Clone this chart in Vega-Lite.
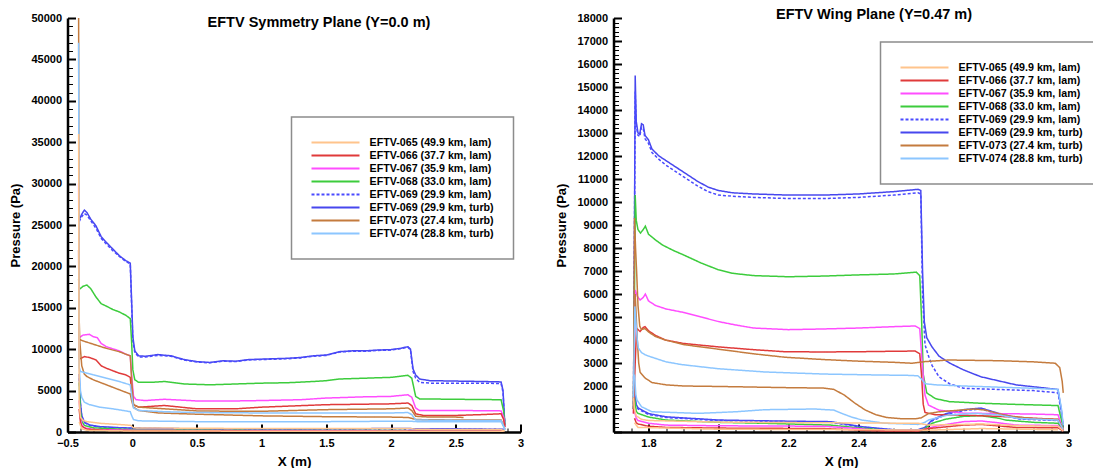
{
  "$schema": "https://vega.github.io/schema/vega-lite/v6.json",
  "background": "white",
  "padding": {"left": 9.5, "top": 6, "right": 0, "bottom": 0},
  "autosize": {"type": "pad"},
  "bounds": "flush",
  "spacing": 93,
  "config": {
    "view": {"stroke": null},
    "font": "Liberation Sans",
    "axis": {
      "grid": false,
      "domainColor": "black",
      "domainWidth": 2.5,
      "tickColor": "black",
      "labelFont": "Liberation Sans",
      "labelFontWeight": "bold",
      "labelFontSize": 11,
      "labelColor": "black",
      "labelOverlap": false,
      "labelFlush": false,
      "titleFont": "Liberation Sans",
      "titleFontWeight": "bold",
      "titleColor": "black"
    },
    "legend": {
      "strokeColor": "#8c8c8c",
      "strokeWidth": 1.5,
      "fillColor": "white",
      "padding": 19,
      "symbolType": "stroke",
      "symbolSize": 2304,
      "symbolStrokeWidth": 2,
      "clipHeight": 13,
      "rowPadding": 0,
      "labelFont": "Liberation Sans",
      "labelFontWeight": "bold",
      "labelFontSize": 10.7,
      "labelColor": "black",
      "labelOffset": 9,
      "labelLimit": 300
    }
  },
  "datasets": {
    "symmetry": [
      {"r":"069T","c":"u","x":-0.41,"p":25600},{"r":"069T","c":"u","x":-0.39,"p":26300},{"r":"069T","c":"u","x":-0.37,"p":26800},{"r":"069T","c":"u","x":-0.35,"p":26500},{"r":"069T","c":"u","x":-0.32,"p":25700},{"r":"069T","c":"u","x":-0.28,"p":24900},{"r":"069T","c":"u","x":-0.24,"p":23600},{"r":"069T","c":"u","x":-0.2,"p":22900},{"r":"069T","c":"u","x":-0.15,"p":22100},{"r":"069T","c":"u","x":-0.1,"p":21300},{"r":"069T","c":"u","x":-0.05,"p":20700},{"r":"069T","c":"u","x":-0.015,"p":20400},{"r":"069T","c":"u","x":-0.005,"p":16000},{"r":"069T","c":"u","x":0.005,"p":11500},{"r":"069T","c":"u","x":0.02,"p":9800},{"r":"069T","c":"u","x":0.05,"p":9200},{"r":"069T","c":"u","x":0.1,"p":9150},{"r":"069T","c":"u","x":0.2,"p":9350},{"r":"069T","c":"u","x":0.3,"p":9200},{"r":"069T","c":"u","x":0.4,"p":8750},{"r":"069T","c":"u","x":0.5,"p":8500},{"r":"069T","c":"u","x":0.6,"p":8400},{"r":"069T","c":"u","x":0.7,"p":8600},{"r":"069T","c":"u","x":0.8,"p":8550},{"r":"069T","c":"u","x":0.9,"p":8750},{"r":"069T","c":"u","x":1.0,"p":8800},{"r":"069T","c":"u","x":1.1,"p":8850},{"r":"069T","c":"u","x":1.2,"p":8900},{"r":"069T","c":"u","x":1.3,"p":9000},{"r":"069T","c":"u","x":1.4,"p":9200},{"r":"069T","c":"u","x":1.5,"p":9300},{"r":"069T","c":"u","x":1.6,"p":9700},{"r":"069T","c":"u","x":1.7,"p":9800},{"r":"069T","c":"u","x":1.8,"p":9800},{"r":"069T","c":"u","x":1.9,"p":9900},{"r":"069T","c":"u","x":2.0,"p":9950},{"r":"069T","c":"u","x":2.07,"p":10100},{"r":"069T","c":"u","x":2.13,"p":10300},{"r":"069T","c":"u","x":2.15,"p":10000},{"r":"069T","c":"u","x":2.17,"p":7600},{"r":"069T","c":"u","x":2.19,"p":6900},{"r":"069T","c":"u","x":2.22,"p":6400},{"r":"069T","c":"u","x":2.3,"p":6200},{"r":"069T","c":"u","x":2.5,"p":6150},{"r":"069T","c":"u","x":2.7,"p":6100},{"r":"069T","c":"u","x":2.85,"p":6050},{"r":"069T","c":"u","x":2.865,"p":5000},{"r":"069T","c":"u","x":2.875,"p":2000},{"r":"069T","c":"u","x":2.88,"p":800},
      {"r":"069L","c":"u","x":-0.41,"p":25400},{"r":"069L","c":"u","x":-0.39,"p":26000},{"r":"069L","c":"u","x":-0.37,"p":26400},{"r":"069L","c":"u","x":-0.35,"p":26200},{"r":"069L","c":"u","x":-0.32,"p":25500},{"r":"069L","c":"u","x":-0.28,"p":24600},{"r":"069L","c":"u","x":-0.24,"p":23400},{"r":"069L","c":"u","x":-0.2,"p":22700},{"r":"069L","c":"u","x":-0.15,"p":21900},{"r":"069L","c":"u","x":-0.1,"p":21200},{"r":"069L","c":"u","x":-0.05,"p":20600},{"r":"069L","c":"u","x":-0.015,"p":20300},{"r":"069L","c":"u","x":-0.005,"p":15500},{"r":"069L","c":"u","x":0.005,"p":11000},{"r":"069L","c":"u","x":0.02,"p":9600},{"r":"069L","c":"u","x":0.05,"p":9050},{"r":"069L","c":"u","x":0.1,"p":9050},{"r":"069L","c":"u","x":0.2,"p":9250},{"r":"069L","c":"u","x":0.3,"p":9150},{"r":"069L","c":"u","x":0.4,"p":8700},{"r":"069L","c":"u","x":0.5,"p":8450},{"r":"069L","c":"u","x":0.6,"p":8350},{"r":"069L","c":"u","x":0.7,"p":8550},{"r":"069L","c":"u","x":0.8,"p":8500},{"r":"069L","c":"u","x":0.9,"p":8700},{"r":"069L","c":"u","x":1.0,"p":8750},{"r":"069L","c":"u","x":1.1,"p":8800},{"r":"069L","c":"u","x":1.2,"p":8850},{"r":"069L","c":"u","x":1.3,"p":8950},{"r":"069L","c":"u","x":1.4,"p":9150},{"r":"069L","c":"u","x":1.5,"p":9250},{"r":"069L","c":"u","x":1.6,"p":9650},{"r":"069L","c":"u","x":1.7,"p":9750},{"r":"069L","c":"u","x":1.8,"p":9750},{"r":"069L","c":"u","x":1.9,"p":9850},{"r":"069L","c":"u","x":2.0,"p":9900},{"r":"069L","c":"u","x":2.07,"p":10050},{"r":"069L","c":"u","x":2.13,"p":10250},{"r":"069L","c":"u","x":2.15,"p":9900},{"r":"069L","c":"u","x":2.17,"p":7300},{"r":"069L","c":"u","x":2.19,"p":6500},{"r":"069L","c":"u","x":2.22,"p":6000},{"r":"069L","c":"u","x":2.3,"p":5900},{"r":"069L","c":"u","x":2.5,"p":5900},{"r":"069L","c":"u","x":2.7,"p":5900},{"r":"069L","c":"u","x":2.85,"p":5850},{"r":"069L","c":"u","x":2.865,"p":4800},{"r":"069L","c":"u","x":2.875,"p":1900},{"r":"069L","c":"u","x":2.88,"p":800},
      {"r":"069T","c":"l","x":-0.41,"p":7000},{"r":"069T","c":"l","x":-0.4,"p":3500},{"r":"069T","c":"l","x":-0.39,"p":2000},{"r":"069T","c":"l","x":-0.37,"p":1200},{"r":"069T","c":"l","x":-0.33,"p":850},{"r":"069T","c":"l","x":-0.25,"p":650},{"r":"069T","c":"l","x":-0.1,"p":520},{"r":"069T","c":"l","x":0.0,"p":480},{"r":"069T","c":"l","x":0.5,"p":380},{"r":"069T","c":"l","x":1.0,"p":350},{"r":"069T","c":"l","x":1.5,"p":380},{"r":"069T","c":"l","x":2.0,"p":420},{"r":"069T","c":"l","x":2.5,"p":380},{"r":"069T","c":"l","x":2.87,"p":320},
      {"r":"069L","c":"l","x":-0.41,"p":6500},{"r":"069L","c":"l","x":-0.4,"p":3300},{"r":"069L","c":"l","x":-0.39,"p":1900},{"r":"069L","c":"l","x":-0.37,"p":1150},{"r":"069L","c":"l","x":-0.33,"p":800},{"r":"069L","c":"l","x":-0.25,"p":600},{"r":"069L","c":"l","x":-0.1,"p":500},{"r":"069L","c":"l","x":0.0,"p":450},{"r":"069L","c":"l","x":0.5,"p":360},{"r":"069L","c":"l","x":1.0,"p":330},{"r":"069L","c":"l","x":1.5,"p":360},{"r":"069L","c":"l","x":2.0,"p":400},{"r":"069L","c":"l","x":2.5,"p":360},{"r":"069L","c":"l","x":2.87,"p":300},
      {"r":"068","c":"u","x":-0.414,"p":18500},{"r":"068","c":"u","x":-0.41,"p":17200},{"r":"068","c":"u","x":-0.38,"p":17600},{"r":"068","c":"u","x":-0.35,"p":17750},{"r":"068","c":"u","x":-0.32,"p":17300},{"r":"068","c":"u","x":-0.28,"p":16300},{"r":"068","c":"u","x":-0.24,"p":15500},{"r":"068","c":"u","x":-0.2,"p":15200},{"r":"068","c":"u","x":-0.15,"p":14800},{"r":"068","c":"u","x":-0.1,"p":14500},{"r":"068","c":"u","x":-0.05,"p":14100},{"r":"068","c":"u","x":-0.015,"p":13700},{"r":"068","c":"u","x":-0.005,"p":11000},{"r":"068","c":"u","x":0.005,"p":7500},{"r":"068","c":"u","x":0.02,"p":6300},{"r":"068","c":"u","x":0.05,"p":6000},{"r":"068","c":"u","x":0.15,"p":6000},{"r":"068","c":"u","x":0.25,"p":6100},{"r":"068","c":"u","x":0.4,"p":5800},{"r":"068","c":"u","x":0.6,"p":5700},{"r":"068","c":"u","x":0.8,"p":5800},{"r":"068","c":"u","x":1.0,"p":5900},{"r":"068","c":"u","x":1.2,"p":5950},{"r":"068","c":"u","x":1.4,"p":6100},{"r":"068","c":"u","x":1.5,"p":6200},{"r":"068","c":"u","x":1.6,"p":6400},{"r":"068","c":"u","x":1.8,"p":6500},{"r":"068","c":"u","x":2.0,"p":6600},{"r":"068","c":"u","x":2.13,"p":6850},{"r":"068","c":"u","x":2.16,"p":6500},{"r":"068","c":"u","x":2.19,"p":4300},{"r":"068","c":"u","x":2.22,"p":4000},{"r":"068","c":"u","x":2.5,"p":3950},{"r":"068","c":"u","x":2.85,"p":3900},{"r":"068","c":"u","x":2.87,"p":2500},{"r":"068","c":"u","x":2.88,"p":800},
      {"r":"068","c":"l","x":-0.41,"p":6000},{"r":"068","c":"l","x":-0.4,"p":2500},{"r":"068","c":"l","x":-0.39,"p":1300},{"r":"068","c":"l","x":-0.37,"p":800},{"r":"068","c":"l","x":-0.3,"p":500},{"r":"068","c":"l","x":-0.1,"p":350},{"r":"068","c":"l","x":0.0,"p":300},{"r":"068","c":"l","x":1.0,"p":180},{"r":"068","c":"l","x":2.0,"p":170},{"r":"068","c":"l","x":2.87,"p":140},
      {"r":"067","c":"u","x":-0.414,"p":30000},{"r":"067","c":"u","x":-0.41,"p":11400},{"r":"067","c":"u","x":-0.38,"p":11700},{"r":"067","c":"u","x":-0.33,"p":11800},{"r":"067","c":"u","x":-0.3,"p":11500},{"r":"067","c":"u","x":-0.27,"p":11400},{"r":"067","c":"u","x":-0.24,"p":10700},{"r":"067","c":"u","x":-0.2,"p":10300},{"r":"067","c":"u","x":-0.1,"p":9800},{"r":"067","c":"u","x":-0.05,"p":9400},{"r":"067","c":"u","x":-0.015,"p":9200},{"r":"067","c":"u","x":-0.005,"p":7000},{"r":"067","c":"u","x":0.01,"p":4300},{"r":"067","c":"u","x":0.03,"p":3900},{"r":"067","c":"u","x":0.1,"p":3800},{"r":"067","c":"u","x":0.25,"p":3950},{"r":"067","c":"u","x":0.5,"p":3750},{"r":"067","c":"u","x":0.8,"p":3750},{"r":"067","c":"u","x":1.0,"p":3800},{"r":"067","c":"u","x":1.3,"p":3900},{"r":"067","c":"u","x":1.5,"p":4100},{"r":"067","c":"u","x":1.8,"p":4250},{"r":"067","c":"u","x":2.0,"p":4300},{"r":"067","c":"u","x":2.13,"p":4500},{"r":"067","c":"u","x":2.16,"p":4200},{"r":"067","c":"u","x":2.19,"p":2900},{"r":"067","c":"u","x":2.22,"p":2600},{"r":"067","c":"u","x":2.5,"p":2600},{"r":"067","c":"u","x":2.85,"p":2550},{"r":"067","c":"u","x":2.87,"p":1800},{"r":"067","c":"u","x":2.88,"p":600},
      {"r":"067","c":"l","x":-0.41,"p":3800},{"r":"067","c":"l","x":-0.4,"p":1600},{"r":"067","c":"l","x":-0.39,"p":900},{"r":"067","c":"l","x":-0.37,"p":500},{"r":"067","c":"l","x":-0.3,"p":300},{"r":"067","c":"l","x":0.0,"p":220},{"r":"067","c":"l","x":1.0,"p":150},{"r":"067","c":"l","x":2.87,"p":120},
      {"r":"066","c":"u","x":-0.414,"p":22000},{"r":"066","c":"u","x":-0.41,"p":8800},{"r":"066","c":"u","x":-0.37,"p":9100},{"r":"066","c":"u","x":-0.33,"p":9000},{"r":"066","c":"u","x":-0.28,"p":8700},{"r":"066","c":"u","x":-0.24,"p":8000},{"r":"066","c":"u","x":-0.2,"p":7700},{"r":"066","c":"u","x":-0.15,"p":7400},{"r":"066","c":"u","x":-0.1,"p":7100},{"r":"066","c":"u","x":-0.05,"p":6900},{"r":"066","c":"u","x":-0.015,"p":6600},{"r":"066","c":"u","x":-0.005,"p":5000},{"r":"066","c":"u","x":0.01,"p":3300},{"r":"066","c":"u","x":0.05,"p":3000},{"r":"066","c":"u","x":0.25,"p":3200},{"r":"066","c":"u","x":0.5,"p":2800},{"r":"066","c":"u","x":0.8,"p":2800},{"r":"066","c":"u","x":1.0,"p":3000},{"r":"066","c":"u","x":1.5,"p":3300},{"r":"066","c":"u","x":2.0,"p":3400},{"r":"066","c":"u","x":2.13,"p":3500},{"r":"066","c":"u","x":2.16,"p":3200},{"r":"066","c":"u","x":2.19,"p":2200},{"r":"066","c":"u","x":2.25,"p":2000},{"r":"066","c":"u","x":2.5,"p":2000},{"r":"066","c":"u","x":2.7,"p":2100},{"r":"066","c":"u","x":2.85,"p":2200},{"r":"066","c":"u","x":2.87,"p":1500},{"r":"066","c":"u","x":2.88,"p":600},
      {"r":"066","c":"l","x":-0.41,"p":2800},{"r":"066","c":"l","x":-0.4,"p":1200},{"r":"066","c":"l","x":-0.39,"p":700},{"r":"066","c":"l","x":-0.35,"p":350},{"r":"066","c":"l","x":-0.2,"p":200},{"r":"066","c":"l","x":0.0,"p":160},{"r":"066","c":"l","x":1.0,"p":100},{"r":"066","c":"l","x":2.87,"p":80},
      {"r":"073","c":"a","x":-0.414,"p":50000},{"r":"073","c":"a","x":-0.41,"p":11200},{"r":"073","c":"a","x":-0.38,"p":11000},{"r":"073","c":"a","x":-0.3,"p":10600},{"r":"073","c":"a","x":-0.2,"p":10100},{"r":"073","c":"a","x":-0.1,"p":9700},{"r":"073","c":"a","x":-0.05,"p":9400},{"r":"073","c":"a","x":-0.015,"p":9200},{"r":"073","c":"a","x":-0.005,"p":6500},{"r":"073","c":"a","x":0.01,"p":3300},{"r":"073","c":"a","x":0.05,"p":3000},{"r":"073","c":"a","x":0.25,"p":2800},{"r":"073","c":"a","x":0.5,"p":2550},{"r":"073","c":"a","x":0.8,"p":2500},{"r":"073","c":"a","x":1.0,"p":2500},{"r":"073","c":"a","x":1.5,"p":2700},{"r":"073","c":"a","x":2.0,"p":2800},{"r":"073","c":"a","x":2.13,"p":2900},{"r":"073","c":"a","x":2.16,"p":2600},{"r":"073","c":"a","x":2.19,"p":1900},{"r":"073","c":"a","x":2.3,"p":1800},{"r":"073","c":"a","x":2.5,"p":1800},{"r":"073","c":"a","x":2.56,"p":1750},
      {"r":"073","c":"b","x":-0.413,"p":15400},{"r":"073","c":"b","x":-0.405,"p":11000},{"r":"073","c":"b","x":-0.39,"p":8000},{"r":"073","c":"b","x":-0.37,"p":7000},{"r":"073","c":"b","x":-0.35,"p":6700},{"r":"073","c":"b","x":-0.3,"p":6300},{"r":"073","c":"b","x":-0.2,"p":5700},{"r":"073","c":"b","x":-0.1,"p":5100},{"r":"073","c":"b","x":-0.05,"p":4800},{"r":"073","c":"b","x":-0.015,"p":4600},{"r":"073","c":"b","x":-0.005,"p":3800},{"r":"073","c":"b","x":0.01,"p":3000},{"r":"073","c":"b","x":0.05,"p":2600},{"r":"073","c":"b","x":0.2,"p":2300},{"r":"073","c":"b","x":0.5,"p":2150},{"r":"073","c":"b","x":1.0,"p":1950},{"r":"073","c":"b","x":1.5,"p":1850},{"r":"073","c":"b","x":2.0,"p":1800},{"r":"073","c":"b","x":2.13,"p":1750},{"r":"073","c":"b","x":2.16,"p":1650},{"r":"073","c":"b","x":2.2,"p":1500},{"r":"073","c":"b","x":2.5,"p":1450},{"r":"073","c":"b","x":2.85,"p":1450},{"r":"073","c":"b","x":2.87,"p":800},{"r":"073","c":"b","x":2.88,"p":300},
      {"r":"074","c":"a","x":-0.414,"p":47000},{"r":"074","c":"a","x":-0.41,"p":7800},{"r":"074","c":"a","x":-0.4,"p":7300},{"r":"074","c":"a","x":-0.35,"p":7100},{"r":"074","c":"a","x":-0.3,"p":6900},{"r":"074","c":"a","x":-0.2,"p":6500},{"r":"074","c":"a","x":-0.1,"p":6100},{"r":"074","c":"a","x":-0.05,"p":5850},{"r":"074","c":"a","x":-0.015,"p":5700},{"r":"074","c":"a","x":-0.005,"p":4500},{"r":"074","c":"a","x":0.01,"p":2900},{"r":"074","c":"a","x":0.05,"p":2600},{"r":"074","c":"a","x":0.25,"p":2450},{"r":"074","c":"a","x":0.5,"p":2350},{"r":"074","c":"a","x":1.0,"p":2300},{"r":"074","c":"a","x":1.5,"p":2300},{"r":"074","c":"a","x":2.0,"p":2300},{"r":"074","c":"a","x":2.13,"p":2350},{"r":"074","c":"a","x":2.16,"p":2100},{"r":"074","c":"a","x":2.19,"p":1450},{"r":"074","c":"a","x":2.5,"p":1400},{"r":"074","c":"a","x":2.85,"p":1400},{"r":"074","c":"a","x":2.87,"p":700},{"r":"074","c":"a","x":2.88,"p":200},
      {"r":"074","c":"b","x":-0.412,"p":9000},{"r":"074","c":"b","x":-0.4,"p":5000},{"r":"074","c":"b","x":-0.39,"p":4200},{"r":"074","c":"b","x":-0.37,"p":3600},{"r":"074","c":"b","x":-0.33,"p":3300},{"r":"074","c":"b","x":-0.25,"p":3000},{"r":"074","c":"b","x":-0.15,"p":2800},{"r":"074","c":"b","x":-0.05,"p":2550},{"r":"074","c":"b","x":-0.015,"p":2450},{"r":"074","c":"b","x":-0.005,"p":2000},{"r":"074","c":"b","x":0.01,"p":1500},{"r":"074","c":"b","x":0.05,"p":1350},{"r":"074","c":"b","x":0.25,"p":1300},{"r":"074","c":"b","x":0.5,"p":1250},{"r":"074","c":"b","x":1.0,"p":1250},{"r":"074","c":"b","x":1.5,"p":1250},{"r":"074","c":"b","x":2.0,"p":1300},{"r":"074","c":"b","x":2.15,"p":1300},{"r":"074","c":"b","x":2.2,"p":1250},{"r":"074","c":"b","x":2.85,"p":1250},{"r":"074","c":"b","x":2.88,"p":300},
      {"r":"065","c":"u","x":-0.414,"p":36000},{"r":"065","c":"u","x":-0.41,"p":3500},{"r":"065","c":"u","x":-0.4,"p":1800},{"r":"065","c":"u","x":-0.38,"p":1400},{"r":"065","c":"u","x":-0.35,"p":1250},{"r":"065","c":"u","x":-0.25,"p":1050},{"r":"065","c":"u","x":-0.15,"p":950},{"r":"065","c":"u","x":-0.05,"p":850},{"r":"065","c":"u","x":-0.01,"p":800},{"r":"065","c":"u","x":0.01,"p":500},{"r":"065","c":"u","x":0.5,"p":450},{"r":"065","c":"u","x":1.0,"p":420},{"r":"065","c":"u","x":2.0,"p":420},{"r":"065","c":"u","x":2.15,"p":420},{"r":"065","c":"u","x":2.2,"p":320},{"r":"065","c":"u","x":2.85,"p":300},{"r":"065","c":"u","x":2.88,"p":100},
      {"r":"065","c":"l","x":-0.41,"p":1200},{"r":"065","c":"l","x":-0.39,"p":400},{"r":"065","c":"l","x":-0.35,"p":200},{"r":"065","c":"l","x":0.0,"p":120},{"r":"065","c":"l","x":2.87,"p":60}
    ],
    "wing": [
      {"r":"069T","c":"u","x":1.757,"p":1000},{"r":"069T","c":"u","x":1.76,"p":9000},{"r":"069T","c":"u","x":1.762,"p":15500},{"r":"069T","c":"u","x":1.765,"p":13500},{"r":"069T","c":"u","x":1.77,"p":13000},{"r":"069T","c":"u","x":1.775,"p":12950},{"r":"069T","c":"u","x":1.78,"p":13400},{"r":"069T","c":"u","x":1.785,"p":13350},{"r":"069T","c":"u","x":1.79,"p":12900},{"r":"069T","c":"u","x":1.8,"p":12700},{"r":"069T","c":"u","x":1.81,"p":12300},{"r":"069T","c":"u","x":1.83,"p":12000},{"r":"069T","c":"u","x":1.85,"p":11800},{"r":"069T","c":"u","x":1.88,"p":11500},{"r":"069T","c":"u","x":1.91,"p":11200},{"r":"069T","c":"u","x":1.94,"p":10900},{"r":"069T","c":"u","x":1.97,"p":10650},{"r":"069T","c":"u","x":2.0,"p":10500},{"r":"069T","c":"u","x":2.04,"p":10400},{"r":"069T","c":"u","x":2.1,"p":10350},{"r":"069T","c":"u","x":2.2,"p":10300},{"r":"069T","c":"u","x":2.3,"p":10300},{"r":"069T","c":"u","x":2.4,"p":10350},{"r":"069T","c":"u","x":2.5,"p":10450},{"r":"069T","c":"u","x":2.57,"p":10550},{"r":"069T","c":"u","x":2.578,"p":10500},{"r":"069T","c":"u","x":2.583,"p":7000},{"r":"069T","c":"u","x":2.588,"p":4800},{"r":"069T","c":"u","x":2.595,"p":4100},{"r":"069T","c":"u","x":2.61,"p":3700},{"r":"069T","c":"u","x":2.63,"p":3300},{"r":"069T","c":"u","x":2.66,"p":3000},{"r":"069T","c":"u","x":2.7,"p":2700},{"r":"069T","c":"u","x":2.75,"p":2400},{"r":"069T","c":"u","x":2.85,"p":2050},{"r":"069T","c":"u","x":2.97,"p":1850},{"r":"069T","c":"u","x":2.98,"p":900},{"r":"069T","c":"u","x":2.985,"p":200},
      {"r":"069L","c":"u","x":1.757,"p":1000},{"r":"069L","c":"u","x":1.76,"p":9000},{"r":"069L","c":"u","x":1.762,"p":14800},{"r":"069L","c":"u","x":1.765,"p":13300},{"r":"069L","c":"u","x":1.77,"p":12900},{"r":"069L","c":"u","x":1.775,"p":12850},{"r":"069L","c":"u","x":1.78,"p":13250},{"r":"069L","c":"u","x":1.785,"p":13200},{"r":"069L","c":"u","x":1.79,"p":12750},{"r":"069L","c":"u","x":1.8,"p":12550},{"r":"069L","c":"u","x":1.81,"p":12150},{"r":"069L","c":"u","x":1.83,"p":11850},{"r":"069L","c":"u","x":1.85,"p":11600},{"r":"069L","c":"u","x":1.88,"p":11300},{"r":"069L","c":"u","x":1.91,"p":11000},{"r":"069L","c":"u","x":1.94,"p":10700},{"r":"069L","c":"u","x":1.97,"p":10450},{"r":"069L","c":"u","x":2.0,"p":10300},{"r":"069L","c":"u","x":2.04,"p":10250},{"r":"069L","c":"u","x":2.1,"p":10200},{"r":"069L","c":"u","x":2.2,"p":10150},{"r":"069L","c":"u","x":2.3,"p":10150},{"r":"069L","c":"u","x":2.4,"p":10200},{"r":"069L","c":"u","x":2.5,"p":10300},{"r":"069L","c":"u","x":2.57,"p":10400},{"r":"069L","c":"u","x":2.578,"p":10350},{"r":"069L","c":"u","x":2.583,"p":6000},{"r":"069L","c":"u","x":2.59,"p":3800},{"r":"069L","c":"u","x":2.6,"p":3300},{"r":"069L","c":"u","x":2.61,"p":2900},{"r":"069L","c":"u","x":2.63,"p":2400},{"r":"069L","c":"u","x":2.66,"p":2100},{"r":"069L","c":"u","x":2.7,"p":1900},{"r":"069L","c":"u","x":2.8,"p":1850},{"r":"069L","c":"u","x":2.9,"p":1800},{"r":"069L","c":"u","x":2.97,"p":1700},{"r":"069L","c":"u","x":2.98,"p":800},{"r":"069L","c":"u","x":2.985,"p":200},
      {"r":"069T","c":"l","x":1.76,"p":1800},{"r":"069T","c":"l","x":1.765,"p":1200},{"r":"069T","c":"l","x":1.77,"p":1050},{"r":"069T","c":"l","x":1.8,"p":800},{"r":"069T","c":"l","x":1.85,"p":660},{"r":"069T","c":"l","x":2.0,"p":520},{"r":"069T","c":"l","x":2.2,"p":470},{"r":"069T","c":"l","x":2.32,"p":450},{"r":"069T","c":"l","x":2.41,"p":230},{"r":"069T","c":"l","x":2.5,"p":100},{"r":"069T","c":"l","x":2.57,"p":100},{"r":"069T","c":"l","x":2.59,"p":200},{"r":"069T","c":"l","x":2.61,"p":520},{"r":"069T","c":"l","x":2.65,"p":800},{"r":"069T","c":"l","x":2.7,"p":970},{"r":"069T","c":"l","x":2.75,"p":1040},{"r":"069T","c":"l","x":2.8,"p":810},{"r":"069T","c":"l","x":2.86,"p":590},{"r":"069T","c":"l","x":2.97,"p":520},{"r":"069T","c":"l","x":2.985,"p":100},
      {"r":"069L","c":"l","x":1.76,"p":1700},{"r":"069L","c":"l","x":1.765,"p":1150},{"r":"069L","c":"l","x":1.77,"p":1000},{"r":"069L","c":"l","x":1.8,"p":760},{"r":"069L","c":"l","x":1.85,"p":630},{"r":"069L","c":"l","x":2.0,"p":500},{"r":"069L","c":"l","x":2.2,"p":450},{"r":"069L","c":"l","x":2.32,"p":420},{"r":"069L","c":"l","x":2.41,"p":200},{"r":"069L","c":"l","x":2.5,"p":90},{"r":"069L","c":"l","x":2.57,"p":90},{"r":"069L","c":"l","x":2.59,"p":180},{"r":"069L","c":"l","x":2.61,"p":480},{"r":"069L","c":"l","x":2.65,"p":760},{"r":"069L","c":"l","x":2.7,"p":930},{"r":"069L","c":"l","x":2.75,"p":1000},{"r":"069L","c":"l","x":2.8,"p":780},{"r":"069L","c":"l","x":2.86,"p":560},{"r":"069L","c":"l","x":2.97,"p":500},{"r":"069L","c":"l","x":2.985,"p":100},
      {"r":"068","c":"u","x":1.757,"p":1000},{"r":"068","c":"u","x":1.76,"p":6000},{"r":"068","c":"u","x":1.762,"p":10300},{"r":"068","c":"u","x":1.765,"p":9200},{"r":"068","c":"u","x":1.77,"p":8800},{"r":"068","c":"u","x":1.777,"p":8650},{"r":"068","c":"u","x":1.785,"p":8800},{"r":"068","c":"u","x":1.791,"p":8950},{"r":"068","c":"u","x":1.8,"p":8600},{"r":"068","c":"u","x":1.82,"p":8350},{"r":"068","c":"u","x":1.84,"p":8130},{"r":"068","c":"u","x":1.87,"p":7900},{"r":"068","c":"u","x":1.9,"p":7700},{"r":"068","c":"u","x":1.95,"p":7350},{"r":"068","c":"u","x":2.0,"p":7050},{"r":"068","c":"u","x":2.04,"p":6900},{"r":"068","c":"u","x":2.1,"p":6800},{"r":"068","c":"u","x":2.2,"p":6750},{"r":"068","c":"u","x":2.3,"p":6780},{"r":"068","c":"u","x":2.4,"p":6830},{"r":"068","c":"u","x":2.5,"p":6870},{"r":"068","c":"u","x":2.55,"p":6930},{"r":"068","c":"u","x":2.565,"p":6950},{"r":"068","c":"u","x":2.575,"p":6800},{"r":"068","c":"u","x":2.58,"p":5000},{"r":"068","c":"u","x":2.585,"p":2500},{"r":"068","c":"u","x":2.595,"p":1700},{"r":"068","c":"u","x":2.62,"p":1450},{"r":"068","c":"u","x":2.66,"p":1320},{"r":"068","c":"u","x":2.75,"p":1250},{"r":"068","c":"u","x":2.85,"p":1200},{"r":"068","c":"u","x":2.97,"p":1150},{"r":"068","c":"u","x":2.98,"p":500},{"r":"068","c":"u","x":2.985,"p":150},
      {"r":"068","c":"l","x":1.76,"p":1500},{"r":"068","c":"l","x":1.765,"p":900},{"r":"068","c":"l","x":1.77,"p":810},{"r":"068","c":"l","x":1.8,"p":650},{"r":"068","c":"l","x":1.85,"p":520},{"r":"068","c":"l","x":2.0,"p":420},{"r":"068","c":"l","x":2.13,"p":380},{"r":"068","c":"l","x":2.32,"p":300},{"r":"068","c":"l","x":2.4,"p":180},{"r":"068","c":"l","x":2.46,"p":100},{"r":"068","c":"l","x":2.57,"p":60},{"r":"068","c":"l","x":2.59,"p":150},{"r":"068","c":"l","x":2.61,"p":380},{"r":"068","c":"l","x":2.65,"p":560},{"r":"068","c":"l","x":2.7,"p":680},{"r":"068","c":"l","x":2.75,"p":710},{"r":"068","c":"l","x":2.8,"p":600},{"r":"068","c":"l","x":2.82,"p":520},{"r":"068","c":"l","x":2.9,"p":420},{"r":"068","c":"l","x":2.97,"p":380},{"r":"068","c":"l","x":2.985,"p":80},
      {"r":"067","c":"u","x":1.757,"p":800},{"r":"067","c":"u","x":1.76,"p":4000},{"r":"067","c":"u","x":1.762,"p":6170},{"r":"067","c":"u","x":1.768,"p":5900},{"r":"067","c":"u","x":1.776,"p":5740},{"r":"067","c":"u","x":1.785,"p":5850},{"r":"067","c":"u","x":1.791,"p":6000},{"r":"067","c":"u","x":1.8,"p":5700},{"r":"067","c":"u","x":1.82,"p":5500},{"r":"067","c":"u","x":1.85,"p":5350},{"r":"067","c":"u","x":1.9,"p":5200},{"r":"067","c":"u","x":1.95,"p":5000},{"r":"067","c":"u","x":2.0,"p":4800},{"r":"067","c":"u","x":2.05,"p":4650},{"r":"067","c":"u","x":2.1,"p":4520},{"r":"067","c":"u","x":2.2,"p":4450},{"r":"067","c":"u","x":2.3,"p":4480},{"r":"067","c":"u","x":2.4,"p":4520},{"r":"067","c":"u","x":2.5,"p":4580},{"r":"067","c":"u","x":2.562,"p":4610},{"r":"067","c":"u","x":2.575,"p":4500},{"r":"067","c":"u","x":2.582,"p":3000},{"r":"067","c":"u","x":2.59,"p":1600},{"r":"067","c":"u","x":2.6,"p":1170},{"r":"067","c":"u","x":2.63,"p":950},{"r":"067","c":"u","x":2.7,"p":820},{"r":"067","c":"u","x":2.8,"p":800},{"r":"067","c":"u","x":2.9,"p":780},{"r":"067","c":"u","x":2.97,"p":750},{"r":"067","c":"u","x":2.98,"p":300},{"r":"067","c":"u","x":2.985,"p":100},
      {"r":"067","c":"l","x":1.76,"p":900},{"r":"067","c":"l","x":1.765,"p":600},{"r":"067","c":"l","x":1.77,"p":500},{"r":"067","c":"l","x":1.8,"p":380},{"r":"067","c":"l","x":1.85,"p":300},{"r":"067","c":"l","x":2.0,"p":270},{"r":"067","c":"l","x":2.3,"p":250},{"r":"067","c":"l","x":2.4,"p":150},{"r":"067","c":"l","x":2.45,"p":80},{"r":"067","c":"l","x":2.57,"p":70},{"r":"067","c":"l","x":2.59,"p":120},{"r":"067","c":"l","x":2.62,"p":250},{"r":"067","c":"l","x":2.7,"p":450},{"r":"067","c":"l","x":2.75,"p":480},{"r":"067","c":"l","x":2.8,"p":400},{"r":"067","c":"l","x":2.85,"p":300},{"r":"067","c":"l","x":2.97,"p":280},{"r":"067","c":"l","x":2.985,"p":60},
      {"r":"066","c":"u","x":1.757,"p":800},{"r":"066","c":"u","x":1.762,"p":3000},{"r":"066","c":"u","x":1.766,"p":4510},{"r":"066","c":"u","x":1.776,"p":4370},{"r":"066","c":"u","x":1.785,"p":4550},{"r":"066","c":"u","x":1.79,"p":4580},{"r":"066","c":"u","x":1.8,"p":4400},{"r":"066","c":"u","x":1.82,"p":4200},{"r":"066","c":"u","x":1.848,"p":4000},{"r":"066","c":"u","x":1.9,"p":3850},{"r":"066","c":"u","x":2.0,"p":3700},{"r":"066","c":"u","x":2.1,"p":3580},{"r":"066","c":"u","x":2.19,"p":3490},{"r":"066","c":"u","x":2.3,"p":3480},{"r":"066","c":"u","x":2.4,"p":3490},{"r":"066","c":"u","x":2.5,"p":3510},{"r":"066","c":"u","x":2.562,"p":3520},{"r":"066","c":"u","x":2.575,"p":3400},{"r":"066","c":"u","x":2.58,"p":2500},{"r":"066","c":"u","x":2.585,"p":1200},{"r":"066","c":"u","x":2.59,"p":850},{"r":"066","c":"u","x":2.62,"p":750},{"r":"066","c":"u","x":2.7,"p":730},{"r":"066","c":"u","x":2.8,"p":680},{"r":"066","c":"u","x":2.9,"p":600},{"r":"066","c":"u","x":2.97,"p":550},{"r":"066","c":"u","x":2.98,"p":250},{"r":"066","c":"u","x":2.985,"p":80},
      {"r":"066","c":"l","x":1.76,"p":600},{"r":"066","c":"l","x":1.765,"p":400},{"r":"066","c":"l","x":1.77,"p":350},{"r":"066","c":"l","x":1.8,"p":250},{"r":"066","c":"l","x":1.85,"p":200},{"r":"066","c":"l","x":2.0,"p":170},{"r":"066","c":"l","x":2.3,"p":150},{"r":"066","c":"l","x":2.45,"p":50},{"r":"066","c":"l","x":2.57,"p":40},{"r":"066","c":"l","x":2.6,"p":150},{"r":"066","c":"l","x":2.7,"p":300},{"r":"066","c":"l","x":2.75,"p":330},{"r":"066","c":"l","x":2.85,"p":200},{"r":"066","c":"l","x":2.97,"p":180},{"r":"066","c":"l","x":2.985,"p":40},
      {"r":"073","c":"a","x":1.757,"p":1000},{"r":"073","c":"a","x":1.76,"p":9300},{"r":"073","c":"a","x":1.763,"p":8000},{"r":"073","c":"a","x":1.766,"p":7000},{"r":"073","c":"a","x":1.77,"p":5500},{"r":"073","c":"a","x":1.775,"p":4600},{"r":"073","c":"a","x":1.78,"p":4450},{"r":"073","c":"a","x":1.79,"p":4500},{"r":"073","c":"a","x":1.8,"p":4350},{"r":"073","c":"a","x":1.82,"p":4150},{"r":"073","c":"a","x":1.848,"p":4000},{"r":"073","c":"a","x":1.9,"p":3800},{"r":"073","c":"a","x":2.0,"p":3600},{"r":"073","c":"a","x":2.1,"p":3400},{"r":"073","c":"a","x":2.19,"p":3250},{"r":"073","c":"a","x":2.3,"p":3150},{"r":"073","c":"a","x":2.4,"p":3080},{"r":"073","c":"a","x":2.5,"p":3030},{"r":"073","c":"a","x":2.552,"p":2990},{"r":"073","c":"a","x":2.59,"p":3060},{"r":"073","c":"a","x":2.657,"p":3130},{"r":"073","c":"a","x":2.8,"p":3100},{"r":"073","c":"a","x":2.9,"p":3050},{"r":"073","c":"a","x":2.962,"p":2990},{"r":"073","c":"a","x":2.975,"p":2800},{"r":"073","c":"a","x":2.982,"p":2200},{"r":"073","c":"a","x":2.985,"p":1700},
      {"r":"073","c":"b","x":1.762,"p":6000},{"r":"073","c":"b","x":1.768,"p":4000},{"r":"073","c":"b","x":1.772,"p":3000},{"r":"073","c":"b","x":1.776,"p":2600},{"r":"073","c":"b","x":1.79,"p":2350},{"r":"073","c":"b","x":1.81,"p":2150},{"r":"073","c":"b","x":1.85,"p":2050},{"r":"073","c":"b","x":1.9,"p":2000},{"r":"073","c":"b","x":2.0,"p":1980},{"r":"073","c":"b","x":2.19,"p":1930},{"r":"073","c":"b","x":2.3,"p":1910},{"r":"073","c":"b","x":2.33,"p":1850},{"r":"073","c":"b","x":2.36,"p":1600},{"r":"073","c":"b","x":2.39,"p":1250},{"r":"073","c":"b","x":2.42,"p":950},{"r":"073","c":"b","x":2.45,"p":750},{"r":"073","c":"b","x":2.48,"p":630},{"r":"073","c":"b","x":2.52,"p":580},{"r":"073","c":"b","x":2.565,"p":580},{"r":"073","c":"b","x":2.58,"p":620},{"r":"073","c":"b","x":2.6,"p":800},{"r":"073","c":"b","x":2.63,"p":880},{"r":"073","c":"b","x":2.68,"p":940},{"r":"073","c":"b","x":2.73,"p":1000},{"r":"073","c":"b","x":2.76,"p":960},{"r":"073","c":"b","x":2.8,"p":800},{"r":"073","c":"b","x":2.83,"p":700},{"r":"073","c":"b","x":2.9,"p":580},{"r":"073","c":"b","x":2.97,"p":540},{"r":"073","c":"b","x":2.985,"p":150},
      {"r":"074","c":"a","x":1.757,"p":1500},{"r":"074","c":"a","x":1.761,"p":5460},{"r":"074","c":"a","x":1.764,"p":4800},{"r":"074","c":"a","x":1.768,"p":4000},{"r":"074","c":"a","x":1.771,"p":3650},{"r":"074","c":"a","x":1.78,"p":3450},{"r":"074","c":"a","x":1.79,"p":3360},{"r":"074","c":"a","x":1.8,"p":3300},{"r":"074","c":"a","x":1.85,"p":3050},{"r":"074","c":"a","x":1.895,"p":2930},{"r":"074","c":"a","x":2.0,"p":2750},{"r":"074","c":"a","x":2.133,"p":2610},{"r":"074","c":"a","x":2.3,"p":2520},{"r":"074","c":"a","x":2.45,"p":2480},{"r":"074","c":"a","x":2.552,"p":2460},{"r":"074","c":"a","x":2.57,"p":2440},{"r":"074","c":"a","x":2.58,"p":2300},{"r":"074","c":"a","x":2.59,"p":2100},{"r":"074","c":"a","x":2.62,"p":2050},{"r":"074","c":"a","x":2.7,"p":2000},{"r":"074","c":"a","x":2.8,"p":1950},{"r":"074","c":"a","x":2.9,"p":1900},{"r":"074","c":"a","x":2.97,"p":1850},{"r":"074","c":"a","x":2.98,"p":1000},{"r":"074","c":"a","x":2.985,"p":300},
      {"r":"074","c":"b","x":1.76,"p":2500},{"r":"074","c":"b","x":1.764,"p":1600},{"r":"074","c":"b","x":1.767,"p":1390},{"r":"074","c":"b","x":1.78,"p":1100},{"r":"074","c":"b","x":1.81,"p":880},{"r":"074","c":"b","x":1.943,"p":810},{"r":"074","c":"b","x":2.05,"p":880},{"r":"074","c":"b","x":2.133,"p":970},{"r":"074","c":"b","x":2.276,"p":1000},{"r":"074","c":"b","x":2.33,"p":950},{"r":"074","c":"b","x":2.352,"p":810},{"r":"074","c":"b","x":2.38,"p":650},{"r":"074","c":"b","x":2.41,"p":520},{"r":"074","c":"b","x":2.476,"p":380},{"r":"074","c":"b","x":2.57,"p":330},{"r":"074","c":"b","x":2.59,"p":420},{"r":"074","c":"b","x":2.6,"p":520},{"r":"074","c":"b","x":2.657,"p":740},{"r":"074","c":"b","x":2.733,"p":810},{"r":"074","c":"b","x":2.8,"p":740},{"r":"074","c":"b","x":2.857,"p":590},{"r":"074","c":"b","x":2.97,"p":520},{"r":"074","c":"b","x":2.985,"p":100},
      {"r":"065","c":"u","x":1.757,"p":1500},{"r":"065","c":"u","x":1.76,"p":1000},{"r":"065","c":"u","x":1.765,"p":700},{"r":"065","c":"u","x":1.78,"p":550},{"r":"065","c":"u","x":1.8,"p":500},{"r":"065","c":"u","x":2.0,"p":430},{"r":"065","c":"u","x":2.3,"p":400},{"r":"065","c":"u","x":2.57,"p":380},{"r":"065","c":"u","x":2.6,"p":300},{"r":"065","c":"u","x":2.7,"p":330},{"r":"065","c":"u","x":2.75,"p":350},{"r":"065","c":"u","x":2.85,"p":280},{"r":"065","c":"u","x":2.97,"p":250},{"r":"065","c":"u","x":2.985,"p":50},
      {"r":"065","c":"l","x":1.76,"p":400},{"r":"065","c":"l","x":1.77,"p":200},{"r":"065","c":"l","x":2.0,"p":120},{"r":"065","c":"l","x":2.4,"p":100},{"r":"065","c":"l","x":2.6,"p":80},{"r":"065","c":"l","x":2.75,"p":150},{"r":"065","c":"l","x":2.97,"p":100}
    ]
  },
  "hconcat": [
    {
      "width": 453,
      "height": 414,
      "title": {"text": "EFTV Symmetry Plane (Y=0.0 m)", "font": "Liberation Sans", "fontSize": 14.5, "fontWeight": "bold", "color": "black", "anchor": "middle", "dx": 25, "offset": -29, "baseline": "alphabetic"},
      "data": {"name": "symmetry"},
      "mark": {"type": "line", "strokeWidth": 1.5, "clip": true},
      "encoding": {
        "x": {
          "field": "x", "type": "quantitative",
          "scale": {"domain": [-0.5, 3], "nice": false, "zero": false},
          "axis": {
            "title": "X (m)", "titleFontSize": 13.5, "titleY": 29, "titleBaseline": "middle",
            "values": [-0.5,-0.4,-0.3,-0.2,-0.1,0,0.1,0.2,0.3,0.4,0.5,0.6,0.7,0.8,0.9,1,1.1,1.2,1.3,1.4,1.5,1.6,1.7,1.8,1.9,2,2.1,2.2,2.3,2.4,2.5,2.6,2.7,2.8,2.9,3],
            "format": "~g",
            "labelExpr": "round(datum.value * 10) % 5 == 0 ? datum.label : ''",
            "labelPadding": 13,
            "tickSize": {"condition": {"test": "round(datum.value * 10) % 5 == 0", "value": -8}, "value": -4},
            "tickWidth": {"condition": {"test": "round(datum.value * 10) % 5 == 0", "value": 2}, "value": 1}
          }
        },
        "y": {
          "field": "p", "type": "quantitative",
          "scale": {"domain": [0, 50000], "nice": false},
          "axis": {
            "title": "Pressure (Pa)", "titleFontSize": 13, "titleX": -52, "titleY": 207, "titleAlign": "center", "titleBaseline": "middle",
            "values": [0,1000,2000,3000,4000,5000,6000,7000,8000,9000,10000,11000,12000,13000,14000,15000,16000,17000,18000,19000,20000,21000,22000,23000,24000,25000,26000,27000,28000,29000,30000,31000,32000,33000,34000,35000,36000,37000,38000,39000,40000,41000,42000,43000,44000,45000,46000,47000,48000,49000,50000],
            "format": "d",
            "labelExpr": "datum.value % 5000 == 0 ? datum.label : ''",
            "labelPadding": 14,
            "tickSize": {"condition": {"test": "datum.value % 5000 == 0", "value": -8}, "value": -5},
            "tickWidth": {"condition": {"test": "datum.value % 5000 == 0", "value": 2}, "value": 1}
          }
        },
        "color": {
          "field": "r", "type": "nominal",
          "scale": {"domain": ["065","066","067","068","069L","069T","073","074"], "range": ["#ffc48c","#e03a3a","#ff4dff","#3ccc3c","#4a4aff","#4747ee","#c47b3e","#8cc6ff"]},
          "legend": {"title": null, "orient": "none", "legendX": 224, "legendY": 99,
            "labelExpr": "{'065':'EFTV-065 (49.9 km, lam)','066':'EFTV-066 (37.7 km, lam)','067':'EFTV-067 (35.9 km, lam)','068':'EFTV-068 (33.0 km, lam)','069L':'EFTV-069 (29.9 km, lam)','069T':'EFTV-069 (29.9 km, turb)','073':'EFTV-073 (27.4 km, turb)','074':'EFTV-074 (28.8 km, turb)'}[datum.value]"}
        },
        "strokeDash": {
          "field": "r", "type": "nominal",
          "scale": {"domain": ["065","066","067","068","069L","069T","073","074"], "range": [[1,0],[1,0],[1,0],[1,0],[3,2],[1,0],[1,0],[1,0]]},
          "legend": {"title": null, "orient": "none", "legendX": 224, "legendY": 99,
            "labelExpr": "{'065':'EFTV-065 (49.9 km, lam)','066':'EFTV-066 (37.7 km, lam)','067':'EFTV-067 (35.9 km, lam)','068':'EFTV-068 (33.0 km, lam)','069L':'EFTV-069 (29.9 km, lam)','069T':'EFTV-069 (29.9 km, turb)','073':'EFTV-073 (27.4 km, turb)','074':'EFTV-074 (28.8 km, turb)'}[datum.value]"}
        },
        "detail": {"field": "c"}
      }
    },
    {
      "width": 455,
      "height": 414,
      "title": {"text": "EFTV Wing Plane (Y=0.47 m)", "font": "Liberation Sans", "fontSize": 14.5, "fontWeight": "bold", "color": "black", "anchor": "middle", "dx": 33, "offset": -21, "baseline": "alphabetic"},
      "data": {"name": "wing"},
      "mark": {"type": "line", "strokeWidth": 1.5, "clip": true},
      "encoding": {
        "x": {
          "field": "x", "type": "quantitative",
          "scale": {"domain": [1.7, 3], "nice": false, "zero": false},
          "axis": {
            "title": "X (m)", "titleFontSize": 13.5, "titleY": 29, "titleBaseline": "middle",
            "values": [1.7,1.75,1.8,1.85,1.9,1.95,2,2.05,2.1,2.15,2.2,2.25,2.3,2.35,2.4,2.45,2.5,2.55,2.6,2.65,2.7,2.75,2.8,2.85,2.9,2.95,3],
            "format": "~g",
            "labelExpr": "round(datum.value * 100) % 20 == 0 ? datum.label : ''",
            "labelPadding": 13,
            "tickSize": {"condition": {"test": "round(datum.value * 100) % 20 == 0", "value": -8}, "value": -4},
            "tickWidth": {"condition": {"test": "round(datum.value * 100) % 20 == 0", "value": 2}, "value": 1}
          }
        },
        "y": {
          "field": "p", "type": "quantitative",
          "scale": {"domain": [0, 18000], "nice": false},
          "axis": {
            "title": "Pressure (Pa)", "titleFontSize": 13, "titleX": -52, "titleY": 207, "titleAlign": "center", "titleBaseline": "middle",
            "values": [0,200,400,600,800,1000,1200,1400,1600,1800,2000,2200,2400,2600,2800,3000,3200,3400,3600,3800,4000,4200,4400,4600,4800,5000,5200,5400,5600,5800,6000,6200,6400,6600,6800,7000,7200,7400,7600,7800,8000,8200,8400,8600,8800,9000,9200,9400,9600,9800,10000,10200,10400,10600,10800,11000,11200,11400,11600,11800,12000,12200,12400,12600,12800,13000,13200,13400,13600,13800,14000,14200,14400,14600,14800,15000,15200,15400,15600,15800,16000,16200,16400,16600,16800,17000,17200,17400,17600,17800,18000],
            "format": "d",
            "labelExpr": "datum.value % 1000 == 0 && datum.value > 0 ? datum.label : ''",
            "labelPadding": 14,
            "tickSize": {"condition": {"test": "datum.value % 1000 == 0", "value": -8}, "value": -5},
            "tickWidth": {"condition": {"test": "datum.value % 1000 == 0", "value": 2}, "value": 1}
          }
        },
        "color": {
          "field": "r", "type": "nominal",
          "scale": {"domain": ["065","066","067","068","069L","069T","073","074"], "range": ["#ffc48c","#e03a3a","#ff4dff","#3ccc3c","#4a4aff","#4747ee","#c47b3e","#8cc6ff"]},
          "legend": {"title": null, "orient": "none", "legendX": 267, "legendY": 24,
            "labelExpr": "{'065':'EFTV-065 (49.9 km, lam)','066':'EFTV-066 (37.7 km, lam)','067':'EFTV-067 (35.9 km, lam)','068':'EFTV-068 (33.0 km, lam)','069L':'EFTV-069 (29.9 km, lam)','069T':'EFTV-069 (29.9 km, turb)','073':'EFTV-073 (27.4 km, turb)','074':'EFTV-074 (28.8 km, turb)'}[datum.value]"}
        },
        "strokeDash": {
          "field": "r", "type": "nominal",
          "scale": {"domain": ["065","066","067","068","069L","069T","073","074"], "range": [[1,0],[1,0],[1,0],[1,0],[3,2],[1,0],[1,0],[1,0]]},
          "legend": {"title": null, "orient": "none", "legendX": 267, "legendY": 24,
            "labelExpr": "{'065':'EFTV-065 (49.9 km, lam)','066':'EFTV-066 (37.7 km, lam)','067':'EFTV-067 (35.9 km, lam)','068':'EFTV-068 (33.0 km, lam)','069L':'EFTV-069 (29.9 km, lam)','069T':'EFTV-069 (29.9 km, turb)','073':'EFTV-073 (27.4 km, turb)','074':'EFTV-074 (28.8 km, turb)'}[datum.value]"}
        },
        "detail": {"field": "c"}
      }
    }
  ],
  "resolve": {"scale": {"color": "independent", "strokeDash": "independent"}, "legend": {"color": "independent", "strokeDash": "independent"}}
}
